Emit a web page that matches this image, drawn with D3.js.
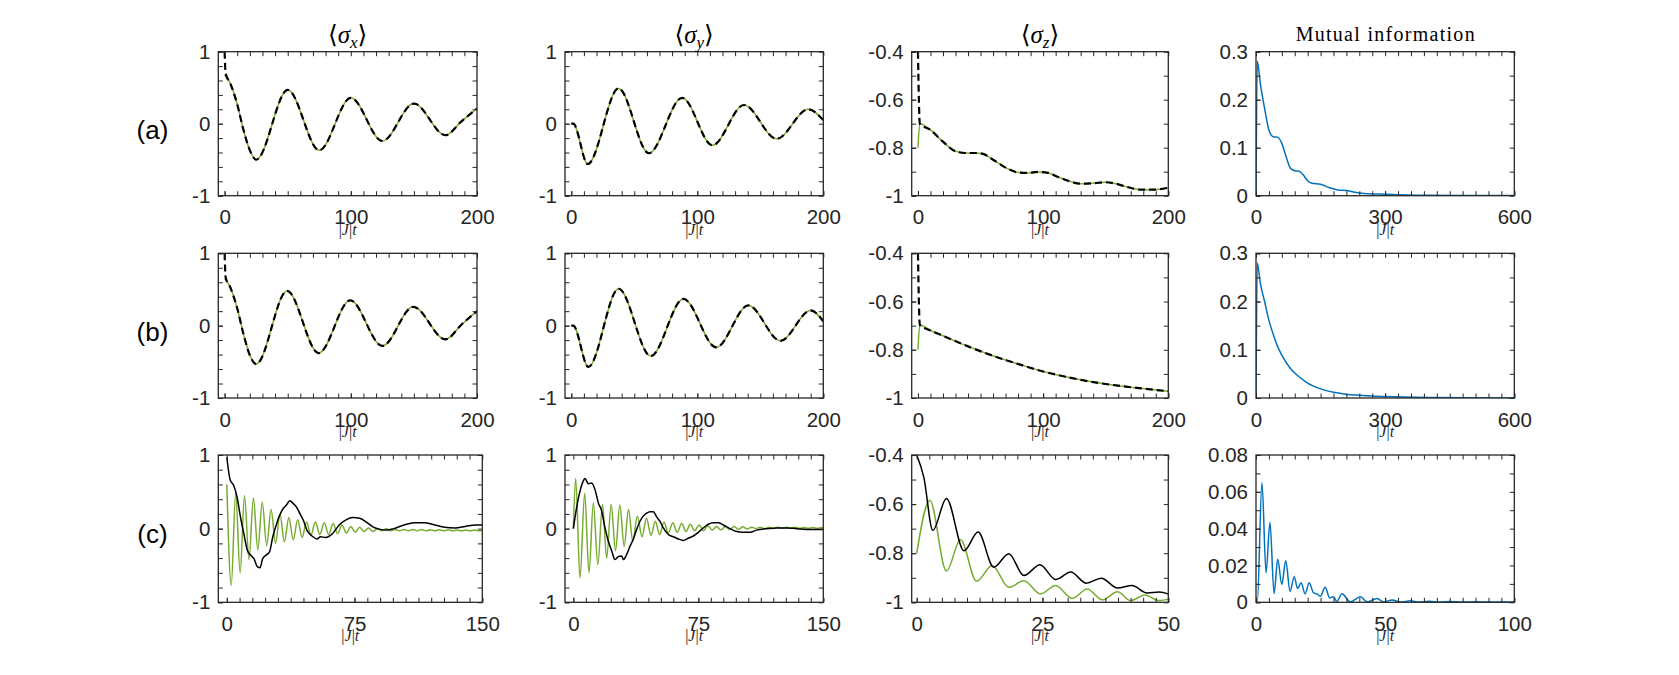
<!DOCTYPE html>
<html><head><meta charset="utf-8">
<script src="https://cdn.jsdelivr.net/npm/d3@7"></script>
<style>body{margin:0;background:#fff;} svg{display:block;}</style>
</head><body>
<svg id="c" width="1679" height="675"></svg>
<script>
// ---------------- data ----------------
const rowLabels = ["(a)", "(b)", "(c)"];
const colTitles = ["x", "y", "z", "MI"];

// tick values
const xTicksAB = [0, 100, 200];
const xTicksMI = [0, 300, 600];
const xTicksC12 = [0, 75, 150];
const xTicksC3 = [0, 25, 50];
const xTicksC4 = [0, 50, 100];
const yTicksS = [-1, 0, 1];
const yTicksZ = [-1, -0.8, -0.6, -0.4];
const yTicksMI = [0, 0.1, 0.2, 0.3];
const yTicksMIc = [0, 0.02, 0.04, 0.06, 0.08];

// Row (a)
const aSxGreen = [[0,0.68],[4.5,0.56],[10,0.27],[15,-0.09],[20.5,-0.39],[25,-0.50],[50,0.47],[75,-0.37],[100,0.36],[125,-0.24],[150,0.28],[175,-0.16],[187.5,0.03],[200,0.21]];
const aSxBlackHead = [[0,1.0],[0.8,0.70]];
const aSyGreen = [[0,0],[1.5,0],[13,-0.56],[37.5,0.49],[61.5,-0.41],[88,0.36],[112,-0.30],[137,0.26],[163,-0.21],[188,0.20],[200,0.05]];
const aSzGreen = [[0,-0.80],[1.5,-0.70],[10,-0.726],[20,-0.775],[30,-0.815],[38,-0.822],[46,-0.822],[52,-0.826],[60,-0.85],[70,-0.883],[80,-0.903],[88,-0.905],[96,-0.901],[104,-0.905],[112,-0.922],[120,-0.938],[130,-0.95],[140,-0.948],[150,-0.944],[158,-0.95],[168,-0.965],[178,-0.975],[188,-0.975],[200,-0.967]];
const aSzBlackHead = [[0,-0.40],[1.5,-0.70]];
const aMI = [[0,0],[3,0.28],[10,0.234],[20,0.182],[30,0.137],[40,0.123],[50,0.122],[60,0.109],[70,0.081],[80,0.057],[90,0.052],[100,0.051],[110,0.043],[120,0.031],[130,0.026],[150,0.024],[170,0.017],[190,0.012],[210,0.011],[230,0.007],[260,0.004],[300,0.003],[350,0.0015],[400,0.001],[500,0.0005],[600,0.0002]];

// Row (b)
const bSxGreen = [[0,0.65],[4.5,0.53],[10,0.24],[15,-0.12],[20.5,-0.43],[25,-0.53],[49.5,0.48],[74.5,-0.38],[99.5,0.35],[125,-0.28],[149.5,0.26],[175,-0.19],[188,0.02],[200,0.20]];
const bSxBlackHead = [[0,1.0],[0.8,0.67]];
const bSyGreen = [[0,0],[1.5,0],[13.5,-0.57],[37.5,0.51],[63,-0.42],[89,0.37],[115,-0.30],[140.5,0.28],[166,-0.21],[190,0.21],[200,0.06]];
const bSzGreen = [[0,-0.80],[1.5,-0.697],[10,-0.72],[20,-0.742],[40,-0.786],[60,-0.825],[80,-0.859],[100,-0.89],[120,-0.914],[140,-0.934],[160,-0.949],[180,-0.961],[200,-0.972]];
const bSzBlackHead = [[0,-0.40],[1.5,-0.697]];
const bMI = [[0,0],[3,0.28],[10,0.238],[20,0.2],[30,0.161],[40,0.132],[50,0.107],[60,0.089],[80,0.061],[100,0.044],[120,0.031],[150,0.019],[200,0.009],[250,0.005],[300,0.003],[400,0.001],[500,0.0004],[600,0.0002]];

// Row (c)
const cSxBlack = [[0,0.97],[2,0.66],[4,0.59],[6,0.43],[8,0.16],[10,-0.07],[12,-0.29],[14,-0.36],[16,-0.41],[18,-0.52],[19.5,-0.53],[21,-0.41],[23,-0.36],[25,-0.32],[27,-0.11],[29,0.05],[31,0.18],[33,0.27],[35,0.32],[37,0.38],[39,0.34],[41,0.29],[43,0.2],[45,0.11],[47,-0.02],[50,-0.1],[53,-0.14],[55,-0.11],[58,-0.12],[62,-0.07],[66,0.05],[70,0.12],[74,0.15],[78,0.14],[82,0.09],[86,0.02],[90,-0.01],[94,-0.02],[98,0],[104,0.05],[110,0.08],[116,0.08],[122,0.05],[128,0.02],[134,0.01],[140,0.03],[146,0.05],[150,0.05]];
const cSxGreen = [[0,0.60],[2.6,-0.77],[5.2,0.48],[7.8,-0.60],[10.4,0.45],[13,-0.42],[15.6,0.42],[18.2,-0.29],[20.8,0.36],[23.4,-0.23],[26,0.26],[28.6,-0.20],[31.2,0.20],[33.8,-0.18],[36.4,0.15],[39,-0.15],[41.6,0.12],[44.2,-0.12],[46.8,0.09],[49.4,-0.09],[52,0.09],[54.6,-0.08],[57.2,0.08],[59.8,-0.08],[62.4,0.07],[65,-0.07],[67.6,0.05],[70.2,-0.06],[72.8,0.03],[75.4,-0.05],[78,0.02],[80.6,-0.04],[83.2,0.01],[85.8,-0.04],[88.4,0.0],[91,-0.03],[93.6,0.0],[96.2,-0.03],[98.8,-0.01],[101.4,-0.03],[104,-0.01],[106.6,-0.03],[109.2,-0.01],[111.8,-0.03],[114.4,-0.01],[117,-0.03],[119.6,-0.015],[122.2,-0.03],[124.8,-0.015],[127.4,-0.03],[130,-0.015],[132.6,-0.03],[135.2,-0.02],[137.8,-0.03],[140.4,-0.02],[143,-0.03],[145.6,-0.02],[148.2,-0.03],[150,-0.025]];
const cSyBlack = [[0,0],[2,0.29],[4,0.51],[6,0.65],[7,0.68],[9,0.61],[11,0.62],[13,0.53],[15,0.35],[17,0.24],[19,0.01],[21,-0.17],[23,-0.30],[25,-0.42],[27,-0.38],[29,-0.37],[30,-0.42],[32,-0.35],[34,-0.24],[36,-0.14],[38,-0.01],[40,0.1],[42,0.17],[44,0.21],[46,0.23],[48,0.23],[50,0.16],[52,0.1],[54,0.01],[57,-0.08],[60,-0.11],[63,-0.14],[66,-0.16],[69,-0.13],[72,-0.1],[75,-0.05],[78,0.01],[81,0.06],[84,0.08],[87,0.08],[90,0.05],[94,0],[98,-0.04],[102,-0.05],[106,-0.05],[110,-0.02],[116,0],[122,0.01],[128,0.01],[134,0],[140,-0.01],[150,-0.01]];
const cSyGreen = [[0,0],[1.4,0.68],[4,-0.67],[6.8,0.48],[9.4,-0.60],[12,0.35],[14.7,-0.49],[17.5,0.33],[20,-0.40],[22.7,0.33],[25.3,-0.30],[27.9,0.32],[30.5,-0.24],[33.1,0.26],[35.7,-0.17],[38.4,0.17],[41.2,-0.11],[43.9,0.14],[46.6,-0.09],[49.2,0.10],[51.8,-0.08],[54.4,0.09],[57,-0.06],[59.7,0.08],[62.3,-0.05],[65,0.07],[67.6,-0.04],[70.2,0.06],[72.8,-0.03],[75.5,0.05],[78.1,-0.03],[80.7,0.04],[83.3,-0.02],[86,0.03],[88.6,-0.02],[91.2,0.03],[93.8,-0.01],[96.5,0.03],[99.1,-0.01],[101.7,0.025],[104.3,-0.005],[107,0.02],[109.6,0],[112.2,0.02],[114.8,0],[117.5,0.02],[120.1,0],[122.7,0.02],[125.3,0.005],[128,0.02],[130.6,0.005],[133.2,0.02],[135.8,0.005],[138.5,0.015],[141.1,0.005],[143.7,0.015],[146.3,0.005],[149,0.015],[150,0.01]];
const cSzBlack = [[0,-0.40],[1.4,-0.49],[3.2,-0.707],[5.9,-0.577],[9.4,-0.79],[12.2,-0.714],[15.3,-0.857],[18.3,-0.802],[21.3,-0.891],[24.5,-0.847],[27.6,-0.907],[30.6,-0.877],[33.7,-0.922],[36.7,-0.902],[39.9,-0.942],[42.8,-0.932],[45.8,-0.962],[48.2,-0.958],[50,-0.966]];
const cSzGreen = [[0,-0.80],[2.6,-0.584],[5.9,-0.873],[8.7,-0.745],[11.9,-0.914],[15,-0.85],[18.3,-0.939],[21.3,-0.912],[24.6,-0.966],[27.6,-0.932],[30.9,-0.984],[33.9,-0.946],[36.9,-0.99],[39.9,-0.957],[42.5,-0.993],[45.4,-0.97],[48.1,-0.993],[50,-0.987]];
const cMI = [[0,0],[0.5,0],[2.3,0.065],[3.9,0.016],[5.4,0.0435],[7,0.0047],[8.4,0.0234],[10,0.0097],[11.5,0.0225],[13.2,0.006],[14.8,0.0139],[16.1,0.0075],[17.5,0.0106],[19,0.0046],[20.6,0.0106],[22.3,0.0051],[23.6,0.0046],[24.9,0.0033],[26.8,0.0082],[28.5,0.0024],[30,0.003],[31.3,0.0005],[33.3,0.0047],[36.5,0.0002],[40.4,0.003],[43,0.0002],[46.9,0.002],[49.5,0.0002],[52.7,0.0013],[56,0.0001],[59.8,0.0009],[63,0.0001],[67,0.0006],[71,0.0001],[75,0.0004],[80,0.0001],[85,0.0003],[90,0.0001],[95,0.0002],[100,0.0001]];

// ---------------- layout / style ----------------
const GREEN = '#77AC30', BLUE = '#0072BD', BLACK = '#000000', AX = '#262626';
const colLeft = [218.3, 565, 911.7, 1256];
const colRight = [477, 823.3, 1168.3, 1514.3];
const rowTop = [51.7, 253.3, 455];
const rowBottom = [195.7, 398, 602.3];

const G = (d) => ({d, c: GREEN, w: 1.5});
const K = (d) => ({d, c: BLACK, w: 2.2, dash: '7,4'});
const KS = (d) => ({d, c: BLACK, w: 1.5});
const B = (d) => ({d, c: BLUE, w: 1.5});

const panels = [
  {r:0,c:0,x:[-5,200],y:[-1,1],xt:xTicksAB,yt:yTicksS,xm:10,ym:0.2,s:[G(aSxGreen),K(aSxBlackHead.concat(aSxGreen.slice(1)))]},
  {r:0,c:1,x:[-5,200],y:[-1,1],xt:xTicksAB,yt:yTicksS,xm:10,ym:0.2,s:[G(aSyGreen),K(aSyGreen)]},
  {r:0,c:2,x:[-5,200],y:[-1,-0.4],xt:xTicksAB,yt:yTicksZ,xm:10,ym:0.1,s:[G(aSzGreen),K(aSzBlackHead.concat(aSzGreen.slice(2)))]},
  {r:0,c:3,x:[0,600],y:[0,0.3],xt:xTicksMI,yt:yTicksMI,xm:30,ym:0.05,s:[B(aMI)]},
  {r:1,c:0,x:[-5,200],y:[-1,1],xt:xTicksAB,yt:yTicksS,xm:10,ym:0.2,s:[G(bSxGreen),K(bSxBlackHead.concat(bSxGreen.slice(1)))]},
  {r:1,c:1,x:[-5,200],y:[-1,1],xt:xTicksAB,yt:yTicksS,xm:10,ym:0.2,s:[G(bSyGreen),K(bSyGreen)]},
  {r:1,c:2,x:[-5,200],y:[-1,-0.4],xt:xTicksAB,yt:yTicksZ,xm:10,ym:0.1,s:[G(bSzGreen),K(bSzBlackHead.concat(bSzGreen.slice(2)))]},
  {r:1,c:3,x:[0,600],y:[0,0.3],xt:xTicksMI,yt:yTicksMI,xm:30,ym:0.05,s:[B(bMI)]},
  {r:2,c:0,x:[-5,150],y:[-1,1],xt:xTicksC12,yt:yTicksS,xm:7.5,ym:0.2,right:482.3,s:[G(cSxGreen),KS(cSxBlack)]},
  {r:2,c:1,x:[-5,150],y:[-1,1],xt:xTicksC12,yt:yTicksS,xm:7.5,ym:0.2,s:[G(cSyGreen),KS(cSyBlack)]},
  {r:2,c:2,x:[-1,50],y:[-1,-0.4],xt:xTicksC3,yt:yTicksZ,xm:2.5,ym:0.1,s:[G(cSzGreen),KS(cSzBlack)]},
  {r:2,c:3,x:[0,100],y:[0,0.08],xt:xTicksC4,yt:yTicksMIc,xm:5,ym:0.01,s:[B(cMI)]},
];

const svg = d3.select('#c');
svg.append('rect').attr('width',1679).attr('height',675).attr('fill','#fff');
const SANS = '"Liberation Sans", Arial, Helvetica, sans-serif';
const SERIF = '"Liberation Serif", "Times New Roman", "DejaVu Serif", serif';

function styleAxis(sel) {
  sel.select('.domain').remove();
  sel.attr('font-family', SANS).attr('font-size', 20.5);
  sel.selectAll('line').attr('stroke', AX).attr('stroke-width', 1);
  sel.selectAll('text').attr('fill', AX);
}

panels.forEach((p, i) => {
  const x0 = colLeft[p.c], x1 = p.right || colRight[p.c];
  const y0 = rowTop[p.r], y1 = rowBottom[p.r];
  const w = x1 - x0, h = y1 - y0;
  const g = svg.append('g').attr('transform', `translate(${x0},${y0})`);
  const xs = d3.scaleLinear().domain(p.x).range([0, w]);
  const ys = d3.scaleLinear().domain(p.y).range([h, 0]);
  const T = 4.5;
  const xMinor = d3.range(p.xt[0], p.xt[p.xt.length-1] + 1e-9, p.xm);
  const yMinor = d3.range(p.yt[0], p.yt[p.yt.length-1] + 1e-9, p.ym);
  const none = () => '';

  g.append('clipPath').attr('id', 'cp' + i).append('rect').attr('width', w).attr('height', h);
  const plot = g.append('g').attr('clip-path', `url(#cp${i})`);
  const line = d3.line().x(d => xs(d[0])).y(d => ys(d[1])).curve(d3.curveMonotoneX);
  p.s.forEach(s => {
    plot.append('path').attr('d', line(s.d)).attr('fill', 'none')
      .attr('stroke', s.c).attr('stroke-width', s.w)
      .attr('stroke-dasharray', s.dash || null)
      .attr('stroke-linejoin', 'round');
  });

  g.append('g').attr('transform', `translate(0,${h})`)
    .call(d3.axisBottom(xs).tickValues(p.xt).tickFormat(String).tickSizeInner(-T).tickSizeOuter(0).tickPadding(14)).call(styleAxis);
  g.append('g').attr('transform', `translate(0,${h})`)
    .call(d3.axisBottom(xs).tickValues(xMinor).tickFormat(none).tickSizeInner(-T).tickSizeOuter(0)).call(styleAxis);
  g.append('g')
    .call(d3.axisTop(xs).tickValues(xMinor).tickFormat(none).tickSizeInner(-T).tickSizeOuter(0)).call(styleAxis);
  g.append('g')
    .call(d3.axisLeft(ys).tickValues(p.yt).tickFormat(String).tickSizeInner(-T).tickSizeOuter(0).tickPadding(8)).call(styleAxis);
  g.append('g')
    .call(d3.axisLeft(ys).tickValues(yMinor).tickFormat(none).tickSizeInner(-T).tickSizeOuter(0)).call(styleAxis);
  g.append('g').attr('transform', `translate(${w},0)`)
    .call(d3.axisRight(ys).tickValues(yMinor).tickFormat(none).tickSizeInner(-T).tickSizeOuter(0)).call(styleAxis);

  g.append('rect').attr('width', w).attr('height', h).attr('fill', 'none')
    .attr('stroke', AX).attr('stroke-width', 1.3);

  // x label |J|t
  const xl = g.append('text').attr('x', w/2).attr('y', h + 39).attr('text-anchor', 'middle')
    .attr('font-family', SERIF).attr('font-size', 16).attr('fill', AX);
  xl.append('tspan').text('|');
  xl.append('tspan').attr('font-style', 'italic').text('J');
  xl.append('tspan').text('|');
  xl.append('tspan').attr('font-style', 'italic').text('t');

  // column titles
  if (p.r === 0) {
    if (colTitles[p.c] === 'MI') {
      g.append('text').attr('x', w/2).attr('y', -11).attr('text-anchor', 'middle')
        .attr('font-family', SERIF).attr('font-size', 20).attr('fill', '#000')
        .attr('textLength', 179).attr('lengthAdjust', 'spacing')
        .text('Mutual information');
    } else {
      const t = g.append('text').attr('x', w/2).attr('y', -9).attr('text-anchor', 'middle')
        .attr('font-family', SERIF).attr('font-size', 25).attr('fill', '#000');
      t.append('tspan').text('\u27E8');
      t.append('tspan').attr('font-style', 'italic').text('\u03C3');
      t.append('tspan').attr('font-style', 'italic').attr('font-size', 17).attr('dy', 5).text(colTitles[p.c]);
      t.append('tspan').attr('dy', -5).text('\u27E9');
    }
  }
});

// row labels
const rowLabelY = [138.5, 341, 543];
rowLabels.forEach((l, i) => {
  svg.append('text').attr('x', 152.5).attr('y', rowLabelY[i]).attr('text-anchor', 'middle')
    .attr('font-family', SANS).attr('font-size', 26).attr('fill', '#000').text(l);
});
</script>
</body></html>
